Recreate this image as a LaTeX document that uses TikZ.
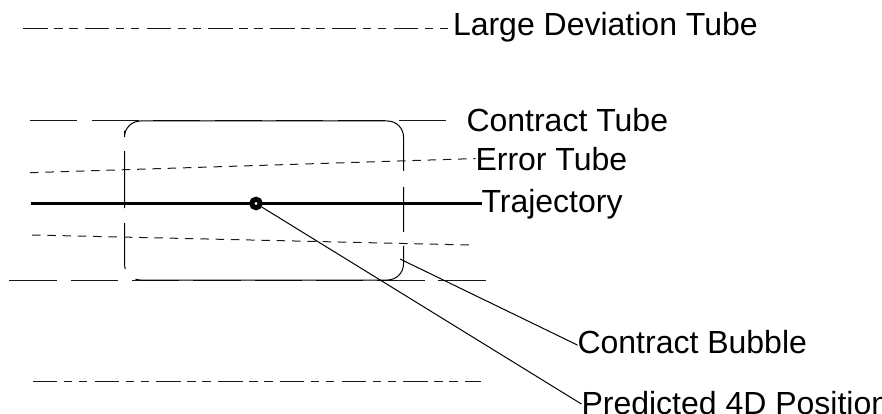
\documentclass[tikz,border=0pt]{standalone}
\usepackage{fontspec}
\setmainfont{Liberation Sans}
\begin{document}
\begin{tikzpicture}[x=1pt,y=-1pt,
  lbl/.style={inner sep=0pt, outer sep=0pt, anchor=base west, font=\fontsize{32}{36}\selectfont},
  thinline/.style={line width=1pt, draw=black!90},
  ldev/.style={thinline, dash pattern=on 24.4pt off 6.6pt on 8.4pt off 6.6pt on 8.4pt off 7.3pt},
  ctube/.style={thinline, dash pattern=on 47pt off 14.5pt},
  etube/.style={thinline, dash pattern=on 8.5pt off 6.8pt},
  bubble/.style={line width=1pt, draw=black, rounded corners=16pt,
    dash pattern=on 45pt off 15pt on 46pt off 15pt on 295.3pt off 14pt on 45pt off 16pt on 339.2pt off 18pt},
  leader/.style={line width=1pt, draw=black},
  trajline/.style={line width=3.2pt, draw=black},
  posdot/.style={circle, draw=black, line width=5pt, fill=white, minimum size=8.5pt, inner sep=0pt}
]
\useasboundingbox (0,0) rectangle (882,414);

% labels
\node[lbl] (ldt) at (453,36) {Large Deviation Tube};
\node[lbl] (ct)  at (466.5,131.5) {Contract Tube};
\node[lbl] (ert) at (475.5,170) {Error Tube};
\node[lbl] (trj) at (481.5,212.7) {Trajectory};
\node[lbl] (cb)  at (577.5,353) {Contract Bubble};
\node[lbl] (p4d) at (581.5,414) {Predicted 4D Position};

% large deviation tube
\coordinate (ldA) at (23.3,29);
\draw[ldev] (ldA) -- (ldA -| ldt.west);
\coordinate (ldB) at (33,381);
\coordinate (ldC) at (481,381);
\draw[ldev] (ldB) -- (ldC);

% contract tube
\coordinate (ctA) at (30,121);
\coordinate (ctB) at (446,121);
\draw[ctube] (ctA) -- (ctB);
\coordinate (ctC) at (9.3,280);
\coordinate (ctD) at (487,280);
\draw[ctube, dash pattern=on 47.4pt off 13.9pt] (ctC) -- (ctD);

% error tube
\coordinate (etA) at (30,172.7);
\draw[etube] (etA) -- (ert.west);
\coordinate (etB) at (32,235);
\coordinate (etC) at (470,245);
\draw[etube] (etB) -- (etC);

% contract bubble
\draw[bubble] (124.5,147) -- (124.5,280) -- (403.5,280) -- (403.5,121) -- (124.5,121) -- cycle;

% trajectory
\coordinate (trA) at (31,203.5);
\draw[trajline] (trA) -- (trA -| trj.west);

% predicted position
\node[posdot] (pos) at (256,203.5) {};
\draw[leader] (pos) -- ([yshift=-1.5pt]p4d.west);

% contract bubble leader
\coordinate (cbA) at (400,259);
\draw[leader] (cbA) -- ([yshift=-3.5pt]cb.west);
\end{tikzpicture}
\end{document}
